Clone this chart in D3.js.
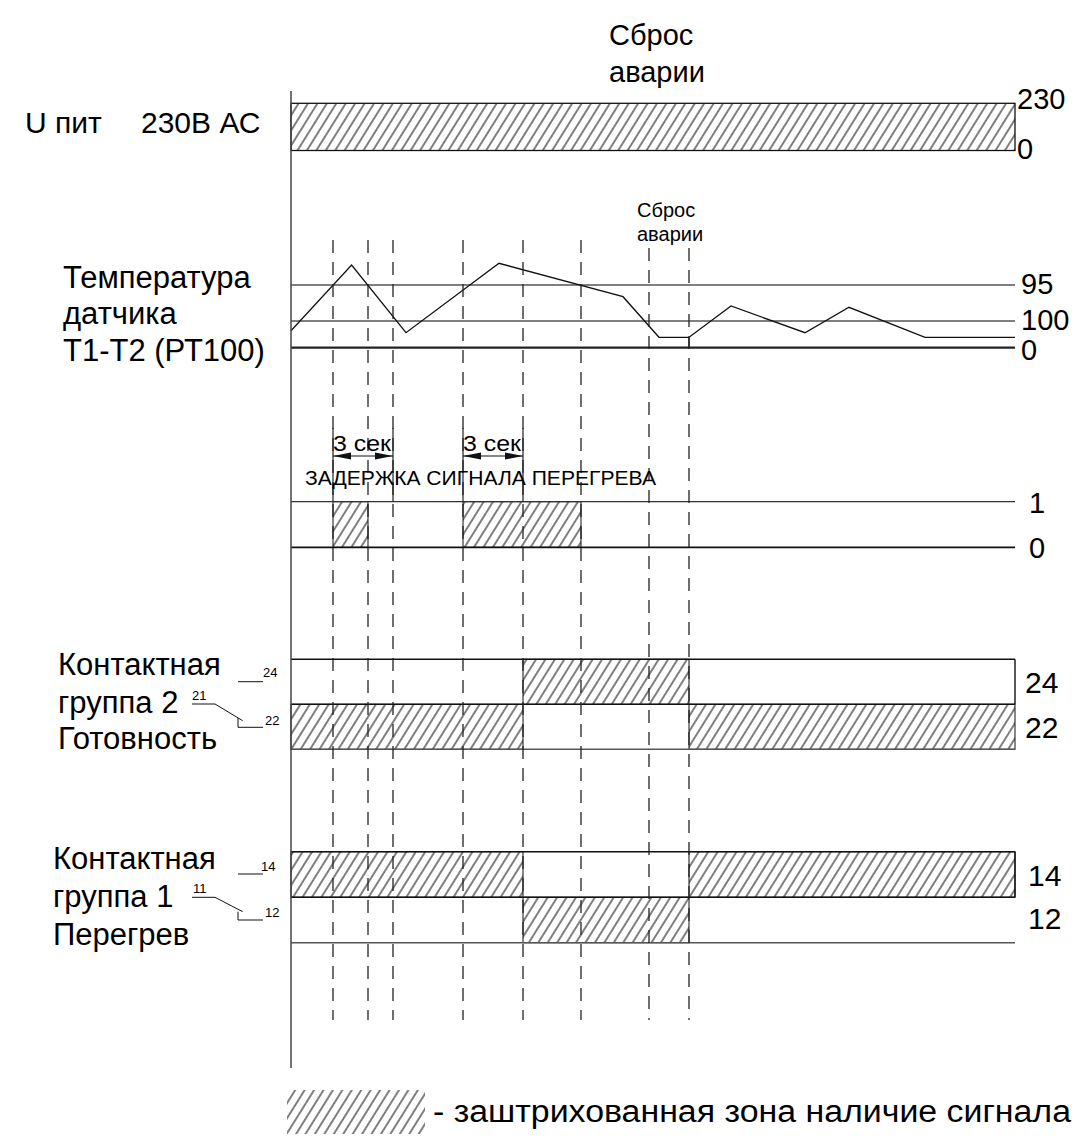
<!DOCTYPE html>
<html><head><meta charset="utf-8">
<script src="https://cdn.jsdelivr.net/npm/d3@7"></script>
<style>
body{margin:0;background:#fff}
svg{display:block;background:#fff}
text{font-family:"Liberation Sans",Arial,sans-serif;fill:#000}
</style>
</head><body>
<svg id="c" width="1078" height="1136"></svg>
<script>
// ---------- data ----------
const T_END = 36.2;                                   // seconds shown on the time axis
const eventTimes = [2.1, 3.85, 5.1, 8.6, 11.6, 14.5, 17.9, 19.9];
const resetTimes = [17.9, 19.9];
const powerOn = [[0, 36.2]];
const powerTickLabels = ["230", "0"];
const powerTickValues = [230, 0];
const tempTimes  = [0, 3.03, 5.75, 10.4, 16.6, 18.4, 19.9, 19.9, 19.9, 22.0, 25.7, 27.9, 31.7, 36.2];
const tempValues = [17, 82.7, 15, 84.4, 51, 10.4, 10.4, 0, 10.4, 41.7, 15, 40.4, 10.4, 10.4];
const tempLevelLabels = ["95", "100", "0"];
const tempLevelValues = [62.7, 26.7, 0];
const overheatDelay = [[2.1, 3.85], [8.6, 14.5]];
const delaySpans = [[2.1, 5.1], [8.6, 11.6]];
const delayLabels = ["3 сек", "3 сек"];
const signalTickLabels = ["1", "0"];
const k2Rows = ["24", "22"];
const k2On = {"24": [[11.6, 19.9]], "22": [[0, 11.6], [19.9, 36.2]]};
const k1Rows = ["14", "12"];
const k1On = {"14": [[0, 11.6], [19.9, 36.2]], "12": [[11.6, 19.9]]};

// ---------- setup ----------
const svg = d3.select("#c");
const x = d3.scaleLinear().domain([0, T_END]).range([291, 1015]);
const X0 = x(0), X1 = x(T_END);

const defs = svg.append("defs");
defs.append("pattern").attr("id", "hatch").attr("patternUnits", "userSpaceOnUse")
  .attr("width", 8).attr("height", 8).attr("patternTransform", "rotate(32)")
  .append("line").attr("x1", 4).attr("y1", -1).attr("x2", 4).attr("y2", 9)
  .attr("stroke", "#000").attr("stroke-width", 1);

const g = svg.append("g");
function hatchRects(intervals, y0, y1) {
  g.selectAll(null).data(intervals).enter().append("rect")
    .attr("x", d => x(d[0])).attr("y", y0)
    .attr("width", d => x(d[1]) - x(d[0])).attr("height", y1 - y0)
    .attr("fill", "url(#hatch)").attr("stroke", "#111").attr("stroke-width", 1);
}
function hline(y, x0, x1, w, col) {
  g.append("line").attr("x1", x0).attr("x2", x1).attr("y1", y).attr("y2", y)
    .attr("stroke", col || "#222").attr("stroke-width", w || 1.2);
}
function vline(xx, y0, y1, w, col) {
  g.append("line").attr("x1", xx).attr("x2", xx).attr("y1", y0).attr("y2", y1)
    .attr("stroke", col || "#222").attr("stroke-width", w || 1.2);
}
function label(t, xx, yy, size, anchor) {
  return svg.append("text").attr("x", xx).attr("y", yy).attr("font-size", size)
    .attr("text-anchor", anchor || "start").text(t);
}

// ---------- power row ----------
const yP = d3.scaleLinear().domain([0, 230]).range([150.5, 103.3]);
g.selectAll(null).data(powerOn).enter().append("rect")
  .attr("x", d => x(d[0])).attr("y", yP(230))
  .attr("width", d => x(d[1]) - x(d[0])).attr("height", yP(0) - yP(230))
  .attr("fill", "url(#hatch)").attr("stroke", "#111").attr("stroke-width", 1.3);
powerTickLabels.forEach((t, i) => label(t, X1 + 2, yP(powerTickValues[i]) + (i === 0 ? 6 : 8), 29));
label("U пит", 25, 133, 30);
label("230В АС", 141, 133, 30);
label("Сброс", 609, 45, 29);
label("аварии", 609, 82, 29);

// ---------- temperature row ----------
const yT = d3.scaleLinear().domain([0, 100]).range([347.7, 247.7]);
tempLevelValues.forEach((v, i) => hline(yT(v), X0, X1, v === 0 ? 2.2 : 1.3, v === 0 ? "#222" : "#555"));
tempLevelLabels.forEach((t, i) => label(t, X1 + 6, yT(tempLevelValues[i]) + (i === 2 ? 12 : 9), 29));
const tempLine = d3.line().x(d => x(d[0])).y(d => yT(d[1]));
g.append("path").datum(tempTimes.map((t, i) => [t, tempValues[i]]))
  .attr("d", tempLine).attr("fill", "none").attr("stroke", "#111").attr("stroke-width", 1.3);
label("Температура", 63, 288, 31);
label("датчика", 63, 324, 31);
label("Т1-Т2 (РТ100)", 63, 361, 31);
label("Сброс", 637, 217, 20);
label("аварии", 637, 241, 20);

// ---------- overheat delay signal ----------
const yS = d3.scaleLinear().domain([0, 1]).range([547.3, 501.7]);
hatchRects(overheatDelay, yS(1), yS(0));
hline(yS(1), X0, X1, 1.2, "#333");
hline(yS(0), X0, X1, 1.8, "#111");
signalTickLabels.forEach((t, i) => label(t, X1 + 14, yS(1 - i) + 11, 29));
// dimension lines
delaySpans.forEach((s, i) => {
  const a = x(s[0]), b = x(s[1]), yy = 456;
  vline(a, 428, yS(1), 1.2, "#222"); vline(b, 428, yS(1), 1.2, "#222");
  hline(yy, a, b, 1.2, "#111");
  g.append("path").attr("d", `M${a},${yy} l18,-3.5 v7 z`).attr("fill", "#111");
  g.append("path").attr("d", `M${b},${yy} l-18,-3.5 v7 z`).attr("fill", "#111");
  label(delayLabels[i], a, 451, 22).attr("textLength", 58).attr("lengthAdjust", "spacingAndGlyphs");
});
svg.append("text").attr("x", 305).attr("y", 485).attr("font-size", 21)
  .attr("textLength", 351).attr("lengthAdjust", "spacingAndGlyphs").text("ЗАДЕРЖКА СИГНАЛА ПЕРЕГРЕВА");

// ---------- contact group 2 ----------
const yK2 = d3.scaleBand().domain(k2Rows).range([659.3, 749.3]);
k2Rows.forEach(r => hatchRects(k2On[r], yK2(r), yK2(r) + yK2.bandwidth()));
hline(yK2("24"), X0, X1, 1.4, "#111");
hline(yK2("22"), X0, X1, 1.4, "#111");
hline(yK2("22") + yK2.bandwidth(), X0, X1, 1.6, "#555");
vline(X1, yK2("24"), yK2("22"), 1.4, "#111");
k2Rows.forEach(r => label(r, X1 + 10, yK2(r) + yK2.bandwidth() / 2 + 11, 30));
label("Контактная", 58, 675, 31);
label("группа 2", 58, 713, 31);
label("Готовность", 58, 749, 31);
label("24", 263, 677, 13); label("21", 192, 700, 13); label("22", 265, 725, 13);
g.append("path").attr("d", "M238,681.7H263 M192,704H215L242.7,720.7 M238,718V727.3H263")
  .attr("fill", "none").attr("stroke", "#111").attr("stroke-width", 1);

// ---------- contact group 1 ----------
const yK1 = d3.scaleBand().domain(k1Rows).range([851.7, 942.7]);
k1Rows.forEach(r => hatchRects(k1On[r], yK1(r), yK1(r) + yK1.bandwidth()));
hline(yK1("14"), X0, X1, 1.4, "#111");
hline(yK1("12"), X0, X1, 1.4, "#111");
hline(yK1("12") + yK1.bandwidth(), X0, X1, 1.6, "#555");
vline(X1, yK1("14"), yK1("12"), 1.4, "#111");
k1Rows.forEach((r, i) => label(r, X1 + 13, yK1(r) + yK1.bandwidth() / 2 + 12 + (i ? -3 : 0), 30));
label("Контактная", 53, 869, 31);
label("группа 1", 53, 907, 31);
label("Перегрев", 53, 945, 31);
label("14", 261, 871, 13); label("11", 193, 893, 13); label("12", 265, 917, 13);
g.append("path").attr("d", "M238,874H263 M192,897.3H215L242.7,911.7 M238,911.7V920H263")
  .attr("fill", "none").attr("stroke", "#111").attr("stroke-width", 1);

// ---------- event dashed lines & axis ----------
eventTimes.forEach(t => {
  const top = resetTimes.includes(t) ? 248 : 240;
  g.append("line").attr("x1", x(t)).attr("x2", x(t)).attr("y1", top).attr("y2", 1020)
    .attr("stroke", "#222").attr("stroke-width", 1.3).attr("stroke-dasharray", "13,9");
});
vline(X0, 91, 1068, 1.5, "#444");

// ---------- legend ----------
g.append("rect").attr("x", 287).attr("y", 1090).attr("width", 138).attr("height", 44)
  .attr("fill", "url(#hatch)");
label("- заштрихованная зона наличие сигнала", 433, 1122, 31)
  .attr("textLength", 638).attr("lengthAdjust", "spacingAndGlyphs");
</script>
</body></html>
